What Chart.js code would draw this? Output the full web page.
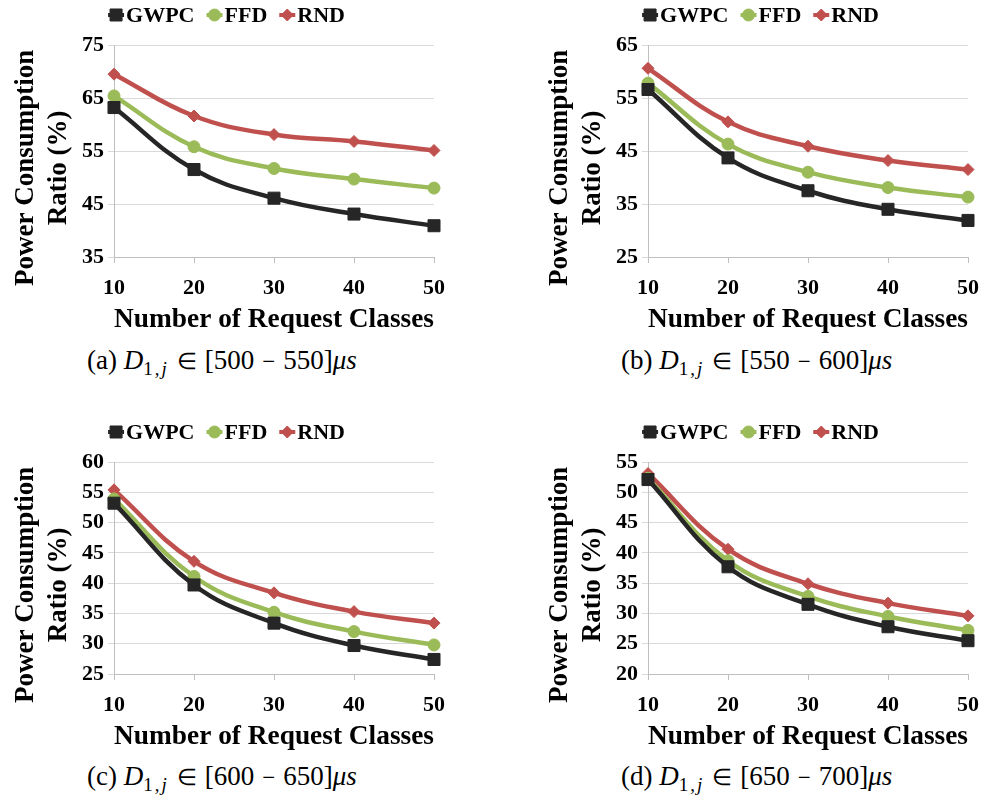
<!DOCTYPE html>
<html>
<head>
<meta charset="utf-8">
<script src="https://cdn.jsdelivr.net/npm/chart.js@4.4.0/dist/chart.umd.min.js"></script>
<style>
body { margin: 0; background: #fff; width: 987px; height: 801px; position: relative; overflow: hidden; }
canvas { position: absolute; }
.cap { position: absolute; font-family: "Liberation Serif", "Times New Roman", serif; font-size: 27px; color: #000; white-space: nowrap; }
.cap i { font-style: italic; }
.cap sub { font-size: 19px; vertical-align: -6px; letter-spacing: 2px; }
.cap .op { font-size: 23px; padding: 0 8px; }
</style>
</head>
<body>
<canvas id="chartA" width="457" height="340" style="left:0;top:0"></canvas>
<canvas id="chartB" width="453" height="340" style="left:534px;top:0;width:453px"></canvas>
<canvas id="chartC" width="457" height="340" style="left:0;top:417px"></canvas>
<canvas id="chartD" width="453" height="340" style="left:534px;top:417px;width:453px"></canvas>

<div class="cap" style="left:87px;top:345px">(a) <i>D</i><sub>1,<i>j</i></sub><span class="op">∈</span>[500<span class="op">−</span>550]<i>μs</i></div>
<div class="cap" style="left:621px;top:345px">(b) <i>D</i><sub>1,<i>j</i></sub><span class="op">∈</span>[550<span class="op">−</span>600]<i>μs</i></div>
<div class="cap" style="left:87px;top:761px">(c) <i>D</i><sub>1,<i>j</i></sub><span class="op">∈</span>[600<span class="op">−</span>650]<i>μs</i></div>
<div class="cap" style="left:621px;top:761px">(d) <i>D</i><sub>1,<i>j</i></sub><span class="op">∈</span>[650<span class="op">−</span>700]<i>μs</i></div>

<script>
// request classes on the x axis
const classes = ['10', '20', '30', '40', '50'];

// (a) D in [500-550]us
const gwpcA = [63.2, 51.5, 46.1, 43.1, 40.9];
const ffdA = [65.4, 55.8, 51.7, 49.7, 48.0];
const rndA = [69.5, 61.6, 58.1, 56.8, 55.1];
const yTicksA = [35, 45, 55, 65, 75];

// (b) D in [550-600]us
const gwpcB = [56.6, 43.7, 37.5, 34.0, 31.9];
const ffdB = [57.8, 46.3, 41.0, 38.1, 36.3];
const rndB = [60.6, 50.5, 45.9, 43.2, 41.5];
const yTicksB = [25, 35, 45, 55, 65];

// (c) D in [600-650]us
const gwpcC = [53.2, 39.7, 33.4, 29.7, 27.4];
const ffdC = [53.9, 41.1, 35.2, 32.0, 29.8];
const rndC = [55.4, 43.6, 38.4, 35.3, 33.4];
const yTicksC = [25, 30, 35, 40, 45, 50, 55, 60];

// (d) D in [650-700]us
const gwpcD = [52.1, 37.7, 31.5, 27.8, 25.5];
const ffdD = [52.3, 38.7, 32.8, 29.5, 27.2];
const rndD = [53.1, 40.6, 34.9, 31.7, 29.6];
const yTicksD = [20, 25, 30, 35, 40, 45, 50, 55];

const FONT = '"Liberation Serif", "Times New Roman", serif';

// trailing spaces push the rotated title a little lower, like the original
const PAD = '\u00a0\u00a0\u00a0\u00a0\u00a0';

// legend drawn above the plot: short line + marker + label
const topLegend = {
    id: 'topLegend',
    afterDraw(chart) {
        const ctx = chart.ctx;
        ctx.save();
        ctx.font = 'bold 22px ' + FONT;
        const sw = 16;
        const gap = 12;
        const items = chart.data.datasets.map(ds => ({ ds: ds, w: sw + 2 + ctx.measureText(ds.label).width }));
        const total = items.reduce((s, it) => s + it.w, 0) + gap * (items.length - 1);
        let x = (453 - total) / 2;
        const y = 15;
        items.forEach(it => {
            const ds = it.ds;
            ctx.strokeStyle = ds.borderColor;
            ctx.fillStyle = ds.borderColor;
            ctx.lineWidth = 4;
            ctx.beginPath();
            ctx.moveTo(x, y);
            ctx.lineTo(x + sw, y);
            ctx.stroke();
            ctx.lineWidth = 1;
            Chart.helpers.drawPoint(ctx, { pointStyle: ds.pointStyle, radius: ds.pointRadius, borderWidth: 1, rotation: 0 }, x + sw / 2, y);
            ctx.fillStyle = '#000';
            ctx.textAlign = 'left';
            ctx.textBaseline = 'middle';
            ctx.fillText(ds.label, x + sw + 2, y + 1);
            x += it.w + gap;
        });
        ctx.restore();
    }
};

function makeChart(id, gwpc, ffd, rnd, yTicks, rightPad) {
    const ctx = document.getElementById(id).getContext('2d');
    const step = yTicks[1] - yTicks[0];
    return new Chart(ctx, {
        type: 'line',
        data: {
            labels: classes,
            datasets: [
                { label: 'GWPC', data: gwpc, borderColor: '#262626', backgroundColor: '#262626',
                  pointStyle: 'rect', pointRadius: 8.5 },
                { label: 'FFD', data: ffd, borderColor: '#9bbb59', backgroundColor: '#9bbb59',
                  pointStyle: 'circle', pointRadius: 6 },
                { label: 'RND', data: rnd, borderColor: '#c0504d', backgroundColor: '#c0504d',
                  pointStyle: 'rectRot', pointRadius: 6 }
            ]
        },
        options: {
            responsive: false,
            animation: false,
            layout: { padding: { top: 45, right: 15, left: 10, bottom: 4 } },
            elements: {
                line: { borderWidth: 4.5, tension: 0.4 },
                point: { borderWidth: 1 }
            },
            plugins: { legend: { display: false }, tooltip: { enabled: false } },
            scales: {
                x: {
                    offset: false,
                    grid: { drawOnChartArea: false, drawTicks: true, tickLength: 6, color: '#bfbfbf' },
                    border: { color: '#bfbfbf' },
                    ticks: { color: '#000', padding: 12, font: { family: FONT, size: 22, weight: 'bold' } },
                    title: { display: true, text: 'Number of Request Classes', color: '#000', padding: 0,
                             font: { family: FONT, size: 27.5, weight: 'bold' } },
                    afterFit(axis) { axis.height = 79; }
                },
                y: {
                    min: yTicks[0],
                    max: yTicks[yTicks.length - 1],
                    grid: { color: '#d9d9d9', tickLength: 6 },
                    border: { color: '#bfbfbf' },
                    ticks: { stepSize: step, color: '#000', padding: 4, font: { family: FONT, size: 22, weight: 'bold' } },
                    title: { display: true, text: ['Power Consumption' + PAD, 'Ratio (%)' + PAD], color: '#000', padding: 0,
                             font: { family: FONT, size: 27, weight: 'bold', lineHeight: 1.2 } },
                    afterFit(axis) { axis.width = 104; }
                }
            }
        },
        plugins: [topLegend]
    });
}

// right-hand panels sit close to the page edge, so their canvases are a bit wider but clipped
document.getElementById('chartB').width = 457;
document.getElementById('chartD').width = 457;
document.getElementById('chartB').style.width = '457px';
document.getElementById('chartD').style.width = '457px';

makeChart('chartA', gwpcA, ffdA, rndA, yTicksA);
makeChart('chartB', gwpcB, ffdB, rndB, yTicksB);
makeChart('chartC', gwpcC, ffdC, rndC, yTicksC);
makeChart('chartD', gwpcD, ffdD, rndD, yTicksD);
</script>
</body>
</html>
